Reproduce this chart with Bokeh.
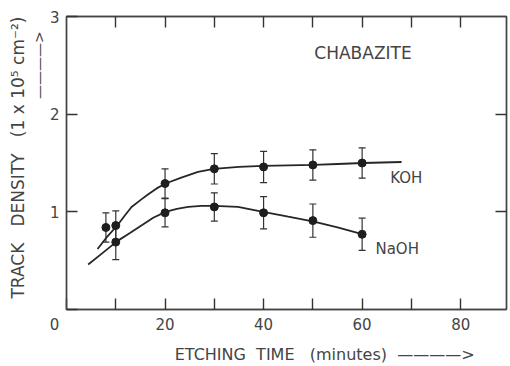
from bokeh.plotting import figure
from bokeh.models import (LinearAxis, FixedTicker, Label, Whisker, TeeHead,
                          ColumnDataSource, Range1d)
from bokeh.embed import file_html
from bokeh.resources import INLINE

# ---- data ----
time_pts = [10, 20, 30, 40, 50, 60]
koh = [0.86, 1.29, 1.44, 1.46, 1.48, 1.50]
koh_err = [0.15, 0.15, 0.155, 0.16, 0.155, 0.155]
naoh = [0.69, 0.99, 1.05, 0.99, 0.91, 0.77]
naoh_err = [0.18, 0.145, 0.145, 0.165, 0.17, 0.165]
extra_t = [8]
extra_y = [0.84]
extra_err = [0.15]

koh_curve_t = [6.3, 8, 10.3, 11.8, 13.2, 15, 16.6, 18.3, 20.1, 23.3, 26.7, 29.9, 35, 39.9, 45, 50.2, 55, 60.2, 68]
koh_curve_y = [0.62, 0.73, 0.86, 0.96, 1.05, 1.12, 1.18, 1.24, 1.29, 1.35, 1.41, 1.44, 1.46, 1.47, 1.475, 1.48, 1.49, 1.50, 1.51]
naoh_curve_t = [4.4, 7.1, 10.3, 12.8, 15.2, 17.6, 20.1, 22.4, 24.7, 27.4, 30, 34.8, 39.9, 45, 50.2, 55, 60.2]
naoh_curve_y = [0.46, 0.57, 0.70, 0.78, 0.86, 0.94, 1.00, 1.03, 1.05, 1.06, 1.06, 1.05, 1.00, 0.95, 0.90, 0.84, 0.77]

NB = "\u00a0"
x_ticks = [0, 10, 20, 30, 40, 50, 60, 70, 80]
x_tick_labels = {0: "0" + NB * 5, 10: "", 20: "20", 30: "", 40: "40", 50: "", 60: "60", 70: "", 80: "80"}
y_ticks = [0, 1, 2, 3]
y_tick_labels = {0: "", 1: "1", 2: "2", 3: "3"}
top_ticks = [10, 20, 30, 40, 50, 60, 70, 80]
right_ticks = [1, 2]
x_title = NB * 15 + "ETCHING" + NB * 2 + "TIME" + NB * 3 + "(minutes)" + NB * 2 + "\u2014\u2014\u2014\u2014>"
y_title = NB * 2 + "TRACK" + NB * 3 + "DENSITY" + NB * 3 + "(1" + NB + "x" + NB + "10\u2075" + NB + "cm\u207b\u00b2)"
y_arrow = NB * 44 + "\u2014\u2014\u2014\u2014>"

FONT = "DejaVu Sans"
INK = "#444444"
LINE = "#444444"

p = figure(width=510, height=366, output_backend="svg", toolbar_location=None,
           x_range=Range1d(0, 89.3), y_range=Range1d(0, 3),
           min_border_left=66, min_border_right=4, min_border_top=16, min_border_bottom=57)
p.background_fill_color = "white"
p.border_fill_color = "white"
p.grid.visible = False
p.outline_line_color = LINE
p.outline_line_width = 1.4

def style_axis(ax, show_labels):
    ax.axis_line_color = LINE
    ax.axis_line_width = 1.4
    ax.major_tick_in = 11
    ax.major_tick_out = 0
    ax.minor_tick_line_color = None
    ax.major_tick_line_color = "#333333"
    ax.major_tick_line_width = 1.4
    if show_labels:
        ax.major_label_text_font = FONT
        ax.major_label_text_font_size = "15px"
        ax.major_label_text_color = INK
    else:
        ax.major_label_standoff = 0

def style_title(ax, size="16px"):
    ax.axis_label_text_font = FONT
    ax.axis_label_text_font_size = size
    ax.axis_label_text_font_style = "normal"
    ax.axis_label_text_color = INK

xax = p.below[0]
xax.ticker = FixedTicker(ticks=x_ticks)
xax.major_label_overrides = x_tick_labels
style_axis(xax, True)
xax.major_label_standoff = 6
xax.axis_label = x_title
xax.axis_label_standoff = 8
style_title(xax)

yax = p.left[0]
yax.ticker = FixedTicker(ticks=y_ticks)
yax.major_label_overrides = y_tick_labels
style_axis(yax, True)
yax.major_label_standoff = 7

arrow_ax = LinearAxis(ticker=FixedTicker(ticks=[]), axis_line_color=None,
                      major_tick_in=0, major_tick_out=0, minor_tick_line_color=None,
                      major_label_standoff=0, axis_label=y_arrow, axis_label_standoff=0)
style_title(arrow_ax, "14px")
p.add_layout(arrow_ax, "left")
title_ax = LinearAxis(ticker=FixedTicker(ticks=[]), axis_line_color=None,
                      major_tick_in=0, major_tick_out=0, minor_tick_line_color=None,
                      major_label_standoff=0, axis_label=y_title, axis_label_standoff=0)
style_title(title_ax, "17px")
p.add_layout(title_ax, "left")

top = LinearAxis(ticker=FixedTicker(ticks=top_ticks), major_label_overrides={t: "" for t in top_ticks})
style_axis(top, False)
p.add_layout(top, "above")
right = LinearAxis(ticker=FixedTicker(ticks=right_ticks), major_label_overrides={t: "" for t in right_ticks})
style_axis(right, False)
p.add_layout(right, "right")

# curves
p.line(koh_curve_t, koh_curve_y, line_color="#262626", line_width=1.8)
p.line(naoh_curve_t, naoh_curve_y, line_color="#262626", line_width=1.8)

# error bars
def add_err(xs, ys, es):
    src = ColumnDataSource(dict(x=xs, lo=[y - e for y, e in zip(ys, es)],
                                hi=[y + e for y, e in zip(ys, es)]))
    w = Whisker(base="x", lower="lo", upper="hi", source=src,
                line_color="#333333", line_width=1.2,
                upper_head=TeeHead(size=7, line_color="#333333", line_width=1.2),
                lower_head=TeeHead(size=7, line_color="#333333", line_width=1.2))
    p.add_layout(w)

add_err(time_pts, koh, koh_err)
add_err(time_pts, naoh, naoh_err)
add_err(extra_t, extra_y, extra_err)

p.scatter(time_pts, koh, size=8, color="#1e1e1e")
p.scatter(time_pts, naoh, size=8, color="#1e1e1e")
p.scatter(extra_t, extra_y, size=8, color="#1e1e1e")

def lab(x, y, text, size="15px"):
    p.add_layout(Label(x=x, y=y, text=text, text_font=FONT, text_font_size=size,
                       text_color=INK, text_baseline="middle", text_align="left"))

lab(50.3, 2.63, "CHABAZITE", size="17px")
lab(65.7, 1.35, "KOH")
lab(62.7, 0.62, "NaOH")

open("out.html", "w").write(file_html(p, INLINE))
